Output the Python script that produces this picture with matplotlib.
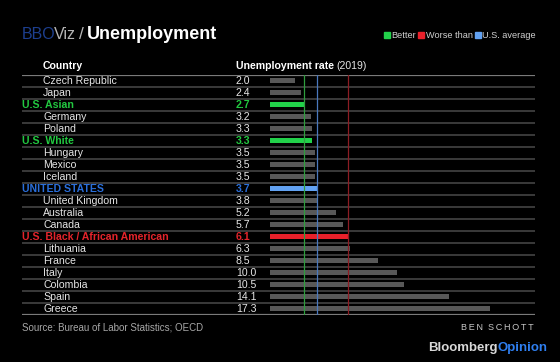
import matplotlib.pyplot as plt
from matplotlib.patches import Patch

# Datos
paises = ["Czech Republic", "Japan", "U.S. Asian", "Germany", "Poland",
          "U.S. White", "Hungary", "Mexico", "Iceland", "UNITED STATES",
          "United Kingdom", "Australia", "Canada",
          "U.S. Black / African American", "Lithuania", "France", "Italy",
          "Colombia", "Spain", "Greece"]
tasas = [2.0, 2.4, 2.7, 3.2, 3.3, 3.3, 3.5, 3.5, 3.5, 3.7,
         3.8, 5.2, 5.7, 6.1, 6.3, 8.5, 10.0, 10.5, 14.1, 17.3]
grupos = ["pais", "pais", "mejor", "pais", "pais", "mejor", "pais", "pais",
          "pais", "eeuu", "pais", "pais", "pais", "peor", "pais", "pais",
          "pais", "pais", "pais", "pais"]
referencias = {"mejor": "U.S. Asian", "eeuu": "UNITED STATES",
               "peor": "U.S. Black / African American"}

col_barra = {"pais": "#585858", "mejor": "#22d14a", "eeuu": "#62a2f2", "peor": "#e8202a"}
col_texto = {"pais": "#e6e6e6", "mejor": "#22c840", "eeuu": "#2a6fdb", "peor": "#e3242b"}
col_linea = {"mejor": "#2f9e3e", "eeuu": "#4a78bd", "peor": "#8c1d24"}

plt.rcParams["font.family"] = ["Liberation Sans", "DejaVu Sans"]

W, H = 560, 362
fig = plt.figure(figsize=(5.6, 3.62), dpi=100, facecolor="black")

# Área de la tabla en píxeles
x0, x1 = 22, 535
y_top, y_bot = 74.7, 314.7
x_cero, px_unidad = 270, 12.72
ax = fig.add_axes([x0 / W, 1 - y_bot / H, (x1 - x0) / W, (y_bot - y_top) / H])
ax.set_facecolor("black")
ax.set_xlim((x0 - x_cero) / px_unidad, (x1 - x_cero) / px_unidad)
ax.set_ylim(len(paises), 0)
ax.axis("off")


def px(x):
    return (x - x_cero) / px_unidad


filas = [i + 0.5 for i in range(len(paises))]

# Separadores
for k in range(len(paises) + 1):
    borde = k in (0, len(paises))
    ax.axhline(k, color="#7a7a7a" if borde else "#4a4a4a",
               lw=1.6 if borde else 1.1, zorder=1)

# Barras
ax.barh(filas, tasas, height=0.4,
        color=[col_barra[g] for g in grupos], zorder=2)

# Líneas de referencia
for g, nombre in referencias.items():
    ax.axvline(tasas[paises.index(nombre)], color=col_linea[g], lw=0.9, zorder=3)

# Etiquetas
for y, nombre, valor, g in zip(filas, paises, tasas, grupos):
    destacado = g != "pais"
    ax.text(px(22 if destacado else 43), y, nombre, color=col_texto[g],
            fontsize=7.6, fontweight="bold" if destacado else "normal",
            va="center", ha="left")
    ax.text(px(236), y, f"{valor:.1f}", color=col_texto[g] if destacado else "#e6e6e6",
            fontsize=7.6, fontweight="bold" if destacado else "normal",
            va="center", ha="left")

# Cabeceras
fig.text(43 / W, 1 - 66 / H, "Country", color="white", fontsize=7.6,
         fontweight="bold", va="center")
t = fig.text(236 / W, 1 - 66 / H, "Unemployment rate", color="white",
             fontsize=7.6, fontweight="bold", va="center")
fig.canvas.draw()
r = fig.canvas.get_renderer()
bb = t.get_window_extent(r)
fig.text(bb.x1 / W + 2 / W, 1 - 66 / H, "(2019)", color="#e6e6e6",
         fontsize=7.6, va="center")

# Título (piezas encadenadas)
x = 22
for texto, color, tam, peso, hueco in [("BBO", "#1d3f8f", 11.5, "normal", -1.5),
                                       ("Viz", "#b5b5b5", 11.5, "normal", 3),
                                       ("/", "#b5b5b5", 12.5, "normal", 3),
                                       ("Unemployment", "white", 13, "bold", 0)]:
    t = fig.text(x / W, 1 - 39 / H, texto, color=color, fontsize=tam,
                 fontweight=peso, va="baseline", ha="left")
    x = t.get_window_extent(r).x1 + hueco

# Leyenda
handles = [Patch(color=col_barra["mejor"], label="Better"),
           Patch(color=col_barra["peor"], label="Worse than"),
           Patch(color=col_barra["eeuu"], label="U.S. average")]
leg = fig.legend(handles=handles, loc="center right", bbox_to_anchor=(536 / W, 1 - 36 / H),
                 ncol=3, frameon=False, fontsize=6.6, handlelength=0.6, handleheight=0.6,
                 handletextpad=0.2, columnspacing=0.25, borderpad=0, borderaxespad=0)
for txt in leg.get_texts():
    txt.set_color("#d0d0d0")

# Pie
fig.text(22 / W, 1 - 327 / H, "Source: Bureau of Labor Statistics; OECD",
         color="#a8a8a8", fontsize=7, va="center")
fig.text(534 / W, 1 - 327 / H, "B\u2009E\u2009N  S\u2009C\u2009H\u2009O\u2009T\u2009T",
         color="#c8c8c8", fontsize=6.5, va="center", ha="right")
t = fig.text(548 / W, 1 - 348 / H, "Opinion", color="#2f7ff0", fontsize=9.5,
             fontweight="bold", va="center", ha="right")
bb = t.get_window_extent(r)
fig.text(bb.x0 / W, 1 - 348 / H, "Bloomberg", color="#d8d8d8", fontsize=9.5,
         fontweight="bold", va="center", ha="right")

fig.savefig("out.png", dpi=100, facecolor="black")
